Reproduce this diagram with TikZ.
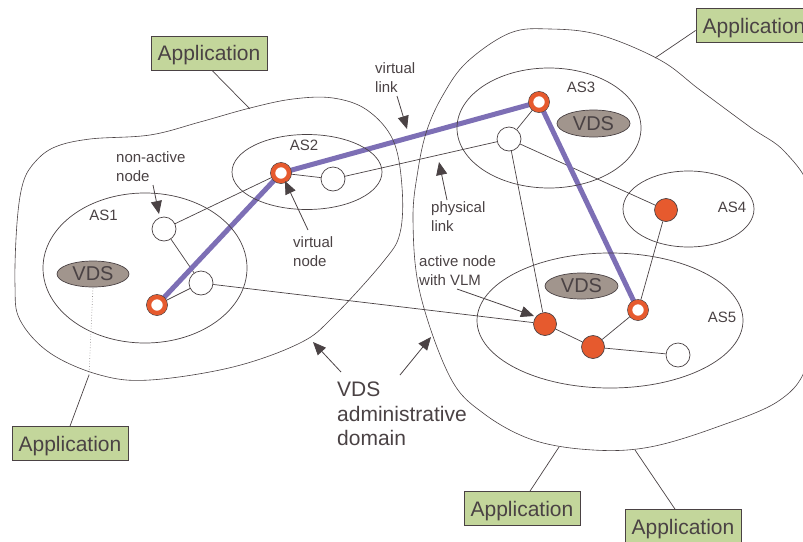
\documentclass[tikz,border=0pt]{standalone}
\usepackage{fontspec}
\setmainfont{Liberation Sans}
\usetikzlibrary{arrows.meta,shapes.geometric}
\definecolor{ink}{HTML}{4A4244}
\definecolor{appgreen}{HTML}{C3D69B}
\definecolor{actorange}{HTML}{E65A2E}
\definecolor{vlinkpurple}{HTML}{7D6FB5}
\definecolor{vdsgrey}{HTML}{A1958D}
\pgfdeclarelayer{links}
\pgfdeclarelayer{vlinks}
\pgfsetlayers{links,vlinks,main}
\begin{document}
\begin{tikzpicture}[x=1pt,y=-1pt,
  every node/.style={text=ink},
  domainline/.style={draw=ink, line width=0.6pt},
  asline/.style={draw=ink, line width=0.7pt},
  phys/.style={draw=ink, line width=0.7pt},
  vlink/.style={draw=vlinkpurple, line width=5pt},
  plainnode/.style={circle, draw=ink, fill=white, line width=0.7pt, minimum size=24pt, inner sep=0pt},
  activenode/.style={circle, draw=ink, fill=actorange, line width=0.7pt, minimum size=23pt, inner sep=0pt},
  virtnode/.style={circle, fill=white, draw=actorange, line width=4.4pt, minimum size=16pt, inner sep=0pt,
    preaction={draw=ink, line width=5.6pt}},
  appbox/.style={draw=ink, fill=appgreen, line width=0.8pt, minimum width=116pt, minimum height=34pt,
    inner sep=0pt, text depth=0pt, font=\fontsize{21}{25}\selectfont},
  vdsblob/.style={ellipse, draw=ink, fill=vdsgrey, line width=0.7pt, inner sep=0pt,
    font=\fontsize{20}{24}\selectfont},
  aslabel/.style={font=\fontsize{15}{18}\selectfont, inner sep=0pt},
  note/.style={font=\fontsize{15}{19}\selectfont, align=left, anchor=north west, inner sep=0pt},
  bignote/.style={font=\fontsize{21}{24.5}\selectfont, align=left, anchor=north west, inner sep=0pt},
  pointer/.style={draw=ink, line width=0.8pt, -{Triangle[length=13pt, width=11pt]}},
  feeder/.style={draw=ink, line width=0.7pt}
]
\useasboundingbox (0,0) rectangle (803,541);
\clip (0,0) rectangle (803,541);

% administrative domains
\draw[domainline] plot[smooth cycle, tension=0.6] coordinates {
  (17,223) (23,183) (35,162) (55,147) (90,139) (150,135) (200,122) (250,108)
  (293,99) (333,98) (367,110) (393,140) (402,187) (400,233) (383,262)
  (333,317) (300,343) (233,367) (150,380) (100,375) (50,353) (20,320) (15,285)};
\draw[domainline] plot[smooth cycle, tension=0.6] coordinates {
  (443,95) (467,62) (510,33) (550,29) (600,35) (660,60) (700,90) (750,127)
  (785,152) (812,195) (822,280) (808,362) (780,400) (717,427) (650,447)
  (593,450) (533,440) (483,413) (450,377) (420,293) (413,220) (418,170) (427,130)};

% autonomous systems
\draw[asline] (145,268) ellipse [x radius=102pt, y radius=75pt];
\draw[asline] (307,172) ellipse [x radius=75pt, y radius=37.5pt];
\draw[asline] (549,128) ellipse [x radius=92pt, y radius=60pt];
\draw[asline] (688.5,209) ellipse [x radius=65.5pt, y radius=38pt];
\draw[asline] (610,320.5) ellipse [x radius=133pt, y radius=67.5pt];

\node[aslabel] (as1) at (103.5,215) {AS1};
\node[aslabel] (as2) at (304,145) {AS2};
\node[aslabel] (as3) at (581,87) {AS3};
\node[aslabel] (as4) at (732,207) {AS4};
\node[aslabel] (as5) at (722,317) {AS5};

% VDS servers
\node[vdsblob, minimum width=72pt, minimum height=26pt] (vds1) at (93,274) {VDS};
\node[vdsblob, minimum width=73pt, minimum height=27pt] (vds3) at (593.5,123.5) {VDS};
\node[vdsblob, minimum width=73pt, minimum height=26pt] (vds5) at (581.5,286) {VDS};

% network nodes
\node[plainnode] (n1) at (164,229) {};
\node[plainnode] (n2) at (201,283) {};
\node[plainnode] (n3) at (333,179) {};
\node[plainnode] (n4) at (509,139) {};
\node[plainnode] (n5) at (678,355) {};
\node[virtnode] (v1) at (157,305) {};
\node[virtnode] (v2) at (281,173) {};
\node[virtnode] (v3) at (539,102) {};
\node[virtnode] (v4) at (638,310) {};
\node[activenode] (a1) at (666,210) {};
\node[activenode] (a2) at (545,324) {};
\node[activenode] (a3) at (593,347) {};

% physical links
\begin{pgfonlayer}{links}
\draw[phys] (n1) -- (v2);
\draw[phys] (n1) -- (n2);
\draw[phys] (n2) -- (v1);
\draw[phys] (v2) -- (n3);
\draw[phys] (n3) -- (n4);
\draw[phys] (n2) -- (a2);
\draw[phys] (n4) -- (v3);
\draw[phys] (n4) -- (a1);
\draw[phys] (n4) -- (a2);
\draw[phys] (a1) -- (v4);
\draw[phys] (a2) -- (a3);
\draw[phys] (a3) -- (v4);
\draw[phys] (a3) -- (n5);
\end{pgfonlayer}

% virtual links
\begin{pgfonlayer}{vlinks}
\draw[vlink] (v1.center) -- (v2.center);
\draw[vlink] (v2.center) -- (v3.center);
\draw[vlink] (v3.center) -- (v4.center);
\end{pgfonlayer}

% applications
\node[appbox] (app1) at (209,53) {Application};
\node[appbox] (app2) at (754,25.5) {Application};
\node[appbox] (app3) at (70,443.5) {Application};
\node[appbox] (app4) at (522,508.5) {Application};
\node[appbox] (app5) at (683,526.5) {Application};

\coordinate (d1) at (250,109);
\coordinate (d2) at (655,58);
\coordinate (d3) at (89,375);
\coordinate (d4) at (559,447);
\coordinate (d5) at (635,450);
\draw[feeder] ([xshift=3pt]app1.south) -- (d1);
\draw[feeder] ([yshift=-5pt]app2.west) -- (d2);
\draw[feeder] (app3.north) -- (d3);
\draw[feeder, draw=ink!60, dotted] (d3) -- (vds1.south);
\draw[feeder] ([xshift=8pt]app4.north) -- (d4);
\draw[feeder] ([xshift=-8pt]app5.north) -- (d5);

% annotations
\node[note] (lnon) at (116,151) {non-active\\node};
\coordinate (pnon) at (153,185);
\coordinate (tnon) at (159,214);
\draw[pointer] (pnon) -- (tnon);

\node[note] (lvl) at (375,62) {virtual\\link};
\coordinate (pvl) at (397,96);
\coordinate (tvl) at (407,129);
\draw[pointer] (pvl) -- (tvl);

\node[note] (lvn) at (293,236) {virtual\\node};
\coordinate (pvn) at (308,230);
\coordinate (tvn) at (285,181);
\draw[pointer] (pvn) -- (tvn);

\node[note] (lpl) at (431,201) {physical\\link};
\coordinate (ppl) at (447,200);
\coordinate (tpl) at (439,162);
\draw[pointer] (ppl) -- (tpl);

\node[note] (lan) at (419,255) {active node\\with VLM};
\coordinate (pan) at (457,289);
\coordinate (tan) at (534,316);
\draw[pointer] (pan) -- (tan);

\node[bignote] (ldom) at (337,382) {VDS\\administrative\\domain};
\coordinate (pdl) at (341,372);
\coordinate (tdl) at (313,342);
\draw[pointer] (pdl) -- (tdl);
\coordinate (pdr) at (400,375);
\coordinate (tdr) at (431,337);
\draw[pointer] (pdr) -- (tdr);
\end{tikzpicture}
\end{document}
